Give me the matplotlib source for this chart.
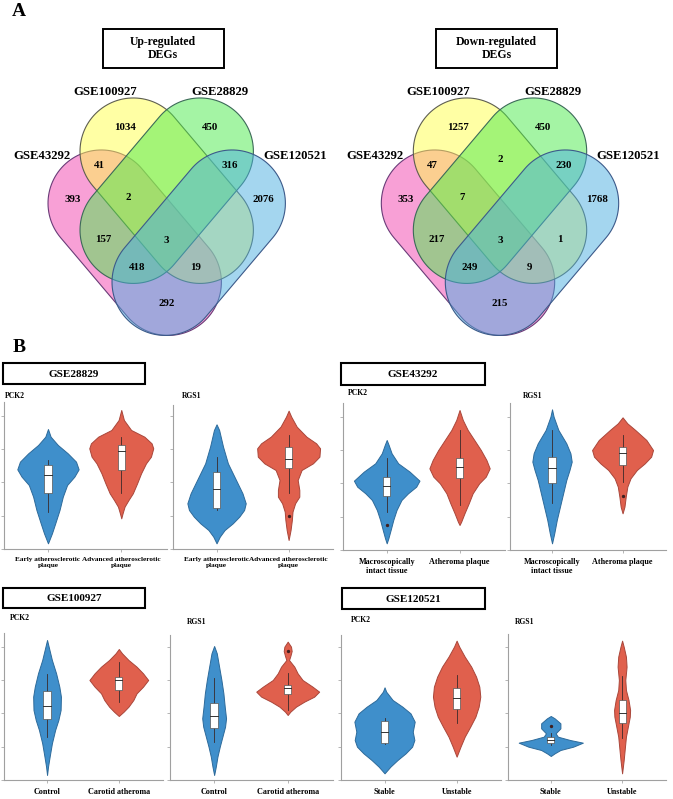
import numpy as np
import matplotlib
matplotlib.use("Agg")
import matplotlib.pyplot as plt
from matplotlib.patches import Rectangle, Polygon

plt.rcParams['font.family'] = ['Liberation Serif', 'DejaVu Serif']
plt.rcParams['font.weight'] = 'bold'

# ---------------- Panel A: Venn counts ----------------
set_names = ["GSE43292", "GSE100927", "GSE28829", "GSE120521"]   # A, B, C, D
regions = ["B", "C", "AB", "CD", "A", "ABC", "D", "BC", "BCD",
           "AC", "ABCD", "BD", "ACD", "ABD", "AD"]
up_counts = [1034, 450, 41, 316, 393, 2, 2076, None, None,
             157, 3, None, 418, 19, 292]
down_counts = [1257, 450, 47, 230, 353, 7, 1768, 2, None,
               217, 3, 1, 249, 9, 215]
venn_titles = ["Up-regulated\nDEGs", "Down-regulated\nDEGs"]

# ---------------- Panel B: violin data ----------------
# y: expression level (arbitrary units), w: relative density half-width
# box: [whisker low, q1, median, q3, whisker high]
gse28829_pck2_a_y = [36.0, 33.7, 31.2, 28.7, 26.2, 23.9, 21.7, 19.2, 15.7, 11.7, 7.7, 4.7, 1.7]
gse28829_pck2_a_w = [0, .08, .30, .60, .85, .93, .80, .58, .45, .35, .22, .12, 0]
gse28829_pck2_a_box = [11.2, 16.7, 22.2, 25.2, 26.7]
gse28829_pck2_b_y = [41.7, 38.7, 35.7, 33.7, 31.7, 30.2, 27.7, 25.7, 22.7, 19.7, 16.7, 14.7, 12.7, 10.7, 9.2]
gse28829_pck2_b_w = [0, .08, .30, .70, .92, .97, .90, .75, .60, .48, .35, .22, .10, .04, 0]
gse28829_pck2_b_box = [16.7, 23.7, 29.5, 31.2, 33.7]

gse28829_rgs1_a_y = [37.4, 35.7, 30.7, 25.7, 22.7, 19.7, 16.7, 13.7, 11.7, 9.7, 7.7, 5.7, 3.7, 1.7]
gse28829_rgs1_a_w = [0, .08, .20, .35, .50, .65, .80, .90, .85, .70, .50, .25, .10, 0]
gse28829_rgs1_a_box = [11.7, 12.2, 17.9, 23.2, 27.7]
gse28829_rgs1_b_y = [41.5, 39.7, 36.7, 33.7, 31.7, 30.2, 27.7, 25.7, 23.7, 20.7, 17.7, 15.7, 13.7, 11.2, 8.7, 5.7, 2.7]
gse28829_rgs1_b_w = [0, .08, .25, .55, .85, .97, .95, .75, .40, .28, .33, .33, .20, .12, .10, .06, 0]
gse28829_rgs1_b_box = [16.7, 24.2, 26.9, 30.5, 34.2]
gse28829_rgs1_b_out = [9.9]

gse43292_pck2_a_y = [33.0, 31.5, 29.0, 26.0, 23.5, 20.8, 19.0, 17.0, 15.0, 12.0, 9.0, 6.0, 3.5, 2.0]
gse43292_pck2_a_w = [0, .06, .15, .35, .70, 1.0, .90, .65, .45, .30, .20, .12, .05, 0]
gse43292_pck2_a_box = [11.5, 16.3, 19.3, 22.0, 27.5]
gse43292_pck2_a_out = [7.5]
gse43292_pck2_b_y = [42.0, 39.0, 36.0, 33.0, 30.0, 27.0, 24.5, 22.0, 20.0, 17.0, 14.0, 11.0, 8.5, 7.5]
gse43292_pck2_b_w = [0, .10, .25, .45, .65, .82, .92, .80, .60, .40, .28, .15, .05, 0]
gse43292_pck2_b_box = [13.5, 21.5, 25.0, 27.5, 36.0]

gse43292_rgs1_a_y = [42.2, 40.0, 36.0, 32.0, 29.0, 26.5, 24.0, 21.0, 17.0, 13.0, 9.0, 5.0, 2.0]
gse43292_rgs1_a_w = [0, .05, .20, .45, .58, .62, .55, .45, .35, .25, .15, .07, 0]
gse43292_rgs1_a_box = [14.0, 20.2, 24.5, 28.0, 36.0]
gse43292_rgs1_b_y = [39.8, 38.0, 36.0, 33.0, 30.0, 28.0, 26.0, 24.0, 21.5, 19.0, 16.0, 13.0, 11.0]
gse43292_rgs1_b_w = [0, .15, .40, .75, .96, .90, .70, .45, .25, .15, .10, .06, 0]
gse43292_rgs1_b_box = [20.5, 25.5, 29.0, 30.8, 34.5]
gse43292_rgs1_b_out = [16.3]

gse100927_pck2_a_y = [42.0, 40.0, 36.0, 32.0, 28.0, 25.0, 21.0, 18.0, 15.0, 11.0, 7.0, 4.0, 1.5]
gse100927_pck2_a_w = [0, .05, .15, .28, .38, .43, .42, .35, .25, .15, .08, .03, 0]
gse100927_pck2_a_box = [13.0, 18.2, 22.2, 26.8, 31.8]
gse100927_pck2_b_y = [39.3, 38.0, 36.0, 34.0, 32.0, 30.0, 28.0, 26.0, 24.0, 22.0, 20.5, 19.2]
gse100927_pck2_b_w = [0, .10, .30, .55, .75, .91, .75, .55, .45, .30, .15, 0]
gse100927_pck2_b_box = [23.5, 27.0, 30.0, 31.0, 35.5]

gse100927_rgs1_a_y = [40.2, 38.0, 34.0, 30.0, 26.0, 22.0, 18.5, 16.0, 13.0, 10.0, 7.0, 4.0, 1.5]
gse100927_rgs1_a_w = [0, .08, .15, .22, .28, .32, .36, .33, .25, .17, .10, .05, 0]
gse100927_rgs1_a_box = [11.5, 15.5, 19.2, 23.2, 30.5]
gse100927_rgs1_b_y = [41.5, 40.0, 38.7, 37.2, 36.0, 34.0, 32.0, 30.0, 28.0, 26.5, 25.0, 23.5, 22.0, 20.5, 19.5]
gse100927_rgs1_b_w = [0, .10, .12, .08, .04, .20, .30, .45, .75, .95, .80, .50, .25, .08, 0]
gse100927_rgs1_b_box = [21.0, 25.8, 27.5, 28.5, 32.0]
gse100927_rgs1_b_out = [38.7]

gse120521_pck2_a_y = [27.8, 26.5, 24.0, 22.0, 20.0, 17.5, 14.5, 12.0, 10.0, 8.0, 6.0, 4.0, 2.0]
gse120521_pck2_a_w = [0, .05, .25, .55, .80, .93, .87, .92, .85, .65, .40, .18, 0]
gse120521_pck2_a_box = [10.8, 11.0, 14.5, 17.8, 18.5]
gse120521_pck2_b_y = [41.8, 40.0, 37.0, 34.0, 31.0, 28.0, 25.0, 22.0, 19.0, 16.0, 13.0, 10.0, 7.0]
gse120521_pck2_b_w = [0, .08, .25, .45, .60, .70, .73, .68, .58, .42, .25, .12, 0]
gse120521_pck2_b_box = [17.0, 21.2, 24.5, 27.7, 31.5]

gse120521_rgs1_a_y = [19.2, 18.5, 17.0, 15.5, 14.0, 13.0, 12.0, 11.2, 10.0, 9.0, 8.0, 7.2]
gse120521_rgs1_a_w = [0, .12, .30, .30, .15, .22, .60, 1.0, .70, .30, .12, 0]
gse120521_rgs1_a_box = [10.5, 11.0, 12.0, 13.0, 14.0]
gse120521_rgs1_a_out = [16.2]
gse120521_rgs1_b_y = [41.8, 40.0, 37.0, 34.0, 30.0, 27.0, 24.0, 21.0, 19.0, 16.0, 13.0, 9.0, 6.0, 2.0]
gse120521_rgs1_b_w = [0, .05, .12, .14, .10, .12, .20, .25, .24, .18, .12, .08, .05, 0]
gse120521_rgs1_b_box = [12.5, 17.0, 20.0, 24.0, 31.2]

labels_28829 = ["Early atherosclerotic\nplaque", "Advanced atherosclerotic\nplaque"]
labels_43292 = ["Macroscopically\nintact tissue", "Atheroma plaque"]
labels_100927 = ["Control", "Carotid atheroma"]
labels_120521 = ["Stable", "Unstable"]
genes = ["PCK2", "RGS1"]

W, H = 673, 799
fig = plt.figure(figsize=(W / 100, H / 100), dpi=100)
canvas = fig.add_axes([0, 0, 1, 1])
canvas.set_xlim(0, W)
canvas.set_ylim(H, 0)
canvas.axis("off")

# ---------- Venn diagrams ----------
def capsule(cx, cy, dx, dy, half_len, r, n=60):
    t = np.linspace(-np.pi / 2, np.pi / 2, n)
    u = np.concatenate([half_len + r * np.cos(t), -half_len - r * np.cos(t)])
    v = np.concatenate([r * np.sin(t), -r * np.sin(t)])
    return np.column_stack([cx + u * dx - v * dy, cy + u * dy + v * dx])

venn_fill = ["#F242AE", "#FFFF4B", "#4BEB4B", "#4BAFE1"]
venn_edge = ["#6A3C78", "#5E5E50", "#3C6A58", "#3C5A8A"]
# (dx offset, y, direction x) for A, B, C, D
shape_layout = [(-32, 242.7, 0.646), (0, 190.7, 0.646), (0, 190.7, -0.646), (32, 242.7, -0.646)]
region_pos = {"B": (-41.7, 127.7), "C": (43.3, 127.7), "AB": (-67.4, 165), "CD": (63.3, 165),
              "A": (-94, 199.3), "ABC": (-38.4, 197.3), "D": (96.6, 199.3), "BC": (0, 160),
              "BCD": (36.6, 196.7), "AC": (-63.4, 240), "ABCD": (0, 240.7), "BD": (60, 240),
              "ACD": (-30, 267.7), "ABD": (29.3, 267.7), "AD": (0, 304)}
name_pos = [(-125, 155.7), (-61.7, 91.7), (53.3, 91.7), (128.3, 155.7)]

for sx, counts, title in zip([166.7, 500.0], [up_counts, down_counts], venn_titles):
    for (ox, cy, ddx), fc, ec in zip(shape_layout, venn_fill, venn_edge):
        pts = capsule(sx + ox, cy, ddx, 0.763, 51.7, 53.3)
        canvas.add_patch(Polygon(pts, closed=True, facecolor=fc, alpha=0.5, lw=0))
        canvas.add_patch(Polygon(pts, closed=True, fill=False, edgecolor=ec, lw=0.8))
    for reg, cnt in zip(regions, counts):
        if cnt is None:
            continue
        px, py = region_pos[reg]
        canvas.text(sx + px, py, str(cnt), ha="center", va="center", fontsize=7.8)
    for nm, (px, py) in zip(set_names, name_pos):
        canvas.text(sx + px, py, nm, ha="center", va="center", fontsize=9.2)
    canvas.add_patch(Rectangle((sx - 64, 28.5), 121, 39.5, fill=False, edgecolor="black", lw=1.4))
    canvas.text(sx - 3.5, 48.5, title, ha="center", va="center", fontsize=8.5, linespacing=1.15)

canvas.text(12, 12, "A", ha="left", va="center", fontsize=14)
canvas.text(13, 347, "B", ha="left", va="center", fontsize=14)

# ---------- Violin panels ----------
blue, blue_edge = "#3F8FCB", "#2D6A9A"
red, red_edge = "#E0604D", "#A9463A"

panels = [
    ((4, 401.7, 166.7, 549), labels_28829, 0,
     (gse28829_pck2_a_y, gse28829_pck2_a_w, gse28829_pck2_a_box, []),
     (gse28829_pck2_b_y, gse28829_pck2_b_w, gse28829_pck2_b_box, [])),
    ((173.3, 405, 333.3, 549), labels_28829, 1,
     (gse28829_rgs1_a_y, gse28829_rgs1_a_w, gse28829_rgs1_a_box, []),
     (gse28829_rgs1_b_y, gse28829_rgs1_b_w, gse28829_rgs1_b_box, gse28829_rgs1_b_out)),
    ((343, 403.3, 504.7, 550), labels_43292, 0,
     (gse43292_pck2_a_y, gse43292_pck2_a_w, gse43292_pck2_a_box, gse43292_pck2_a_out),
     (gse43292_pck2_b_y, gse43292_pck2_b_w, gse43292_pck2_b_box, [])),
    ((509.7, 402.7, 666.3, 550), labels_43292, 1,
     (gse43292_rgs1_a_y, gse43292_rgs1_a_w, gse43292_rgs1_a_box, []),
     (gse43292_rgs1_b_y, gse43292_rgs1_b_w, gse43292_rgs1_b_box, gse43292_rgs1_b_out)),
    ((4, 633.3, 163.3, 780), labels_100927, 0,
     (gse100927_pck2_a_y, gse100927_pck2_a_w, gse100927_pck2_a_box, []),
     (gse100927_pck2_b_y, gse100927_pck2_b_w, gse100927_pck2_b_box, [])),
    ((170, 635, 333.3, 780), labels_100927, 1,
     (gse100927_rgs1_a_y, gse100927_rgs1_a_w, gse100927_rgs1_a_box, []),
     (gse100927_rgs1_b_y, gse100927_rgs1_b_w, gse100927_rgs1_b_box, gse100927_rgs1_b_out)),
    ((341.3, 635, 501.3, 780), labels_120521, 0,
     (gse120521_pck2_a_y, gse120521_pck2_a_w, gse120521_pck2_a_box, []),
     (gse120521_pck2_b_y, gse120521_pck2_b_w, gse120521_pck2_b_box, [])),
    ((508, 634, 666.3, 780), labels_120521, 1,
     (gse120521_rgs1_a_y, gse120521_rgs1_a_w, gse120521_rgs1_a_box, gse120521_rgs1_a_out),
     (gse120521_rgs1_b_y, gse120521_rgs1_b_w, gse120521_rgs1_b_box, [])),
]
gene_pos = [(5, 395.7), (181.7, 395.7), (348, 393.3), (523, 395.7),
            (10, 618.3), (186.7, 621.7), (351.3, 620), (514.7, 621.7)]
group_boxes = [("GSE28829", 3.3, 363.3, 145, 384), ("GSE43292", 341.3, 363.3, 484.7, 385),
               ("GSE100927", 3.3, 588.3, 145, 608.3), ("GSE120521", 342.3, 588.3, 484.7, 609.3)]

def draw_violin(ax, pos, data, fc, ec):
    y, w, box, out = data
    y = np.asarray(y)
    w = np.asarray(w) * 0.45
    ax.fill_betweenx(y, pos - w, pos + w, facecolor=fc, edgecolor=ec, lw=0.7, zorder=2)
    lo, q1, med, q3, hi = box
    ax.plot([pos, pos], [lo, hi], color="#3a2a2a", lw=0.6, zorder=3)
    ax.add_patch(Rectangle((pos - 0.05, q1), 0.1, q3 - q1, facecolor="white",
                           edgecolor="#555555", lw=0.5, zorder=4))
    ax.plot([pos - 0.05, pos + 0.05], [med, med], color="#333333", lw=0.7, zorder=5)
    if out:
        ax.plot([pos] * len(out), out, "o", ms=1.4, color="#402020", zorder=5)

for (rect, cats, gi, data_a, data_b), (gx, gy) in zip(panels, gene_pos):
    l, t, r, b = rect
    ax = fig.add_axes([l / W, 1 - b / H, (r - l) / W, (b - t) / H])
    ax.set_xlim(-0.6, 1.62)
    ax.set_ylim(0, (b - t) * 0.3)
    draw_violin(ax, 0, data_a, blue, blue_edge)
    draw_violin(ax, 1, data_b, red, red_edge)
    ax.set_xticks([0, 1])
    fs = 5.2 if cats is labels_28829 else 5.9
    ax.set_xticklabels(cats, fontsize=fs, fontweight="bold", linespacing=1.05)
    ax.yaxis.set_major_locator(plt.MaxNLocator(5))
    ax.set_yticklabels([])
    ax.tick_params(axis="both", length=2, width=0.5, color="#999999", pad=4)
    for s in ["top", "right"]:
        ax.spines[s].set_visible(False)
    for s in ["left", "bottom"]:
        ax.spines[s].set_color("#a0a0a0")
        ax.spines[s].set_linewidth(0.8)
    ax.patch.set_alpha(0)
    canvas.text(gx, gy, genes[gi], ha="left", va="center", fontsize=5.5)

for name, x0, y0, x1, y1 in group_boxes:
    canvas.add_patch(Rectangle((x0, y0), x1 - x0, y1 - y0, fill=False, edgecolor="black", lw=1.5))
    canvas.text((x0 + x1) / 2, (y0 + y1) / 2 + 0.5, name, ha="center", va="center", fontsize=8)

fig.savefig("out.png", dpi=100)
